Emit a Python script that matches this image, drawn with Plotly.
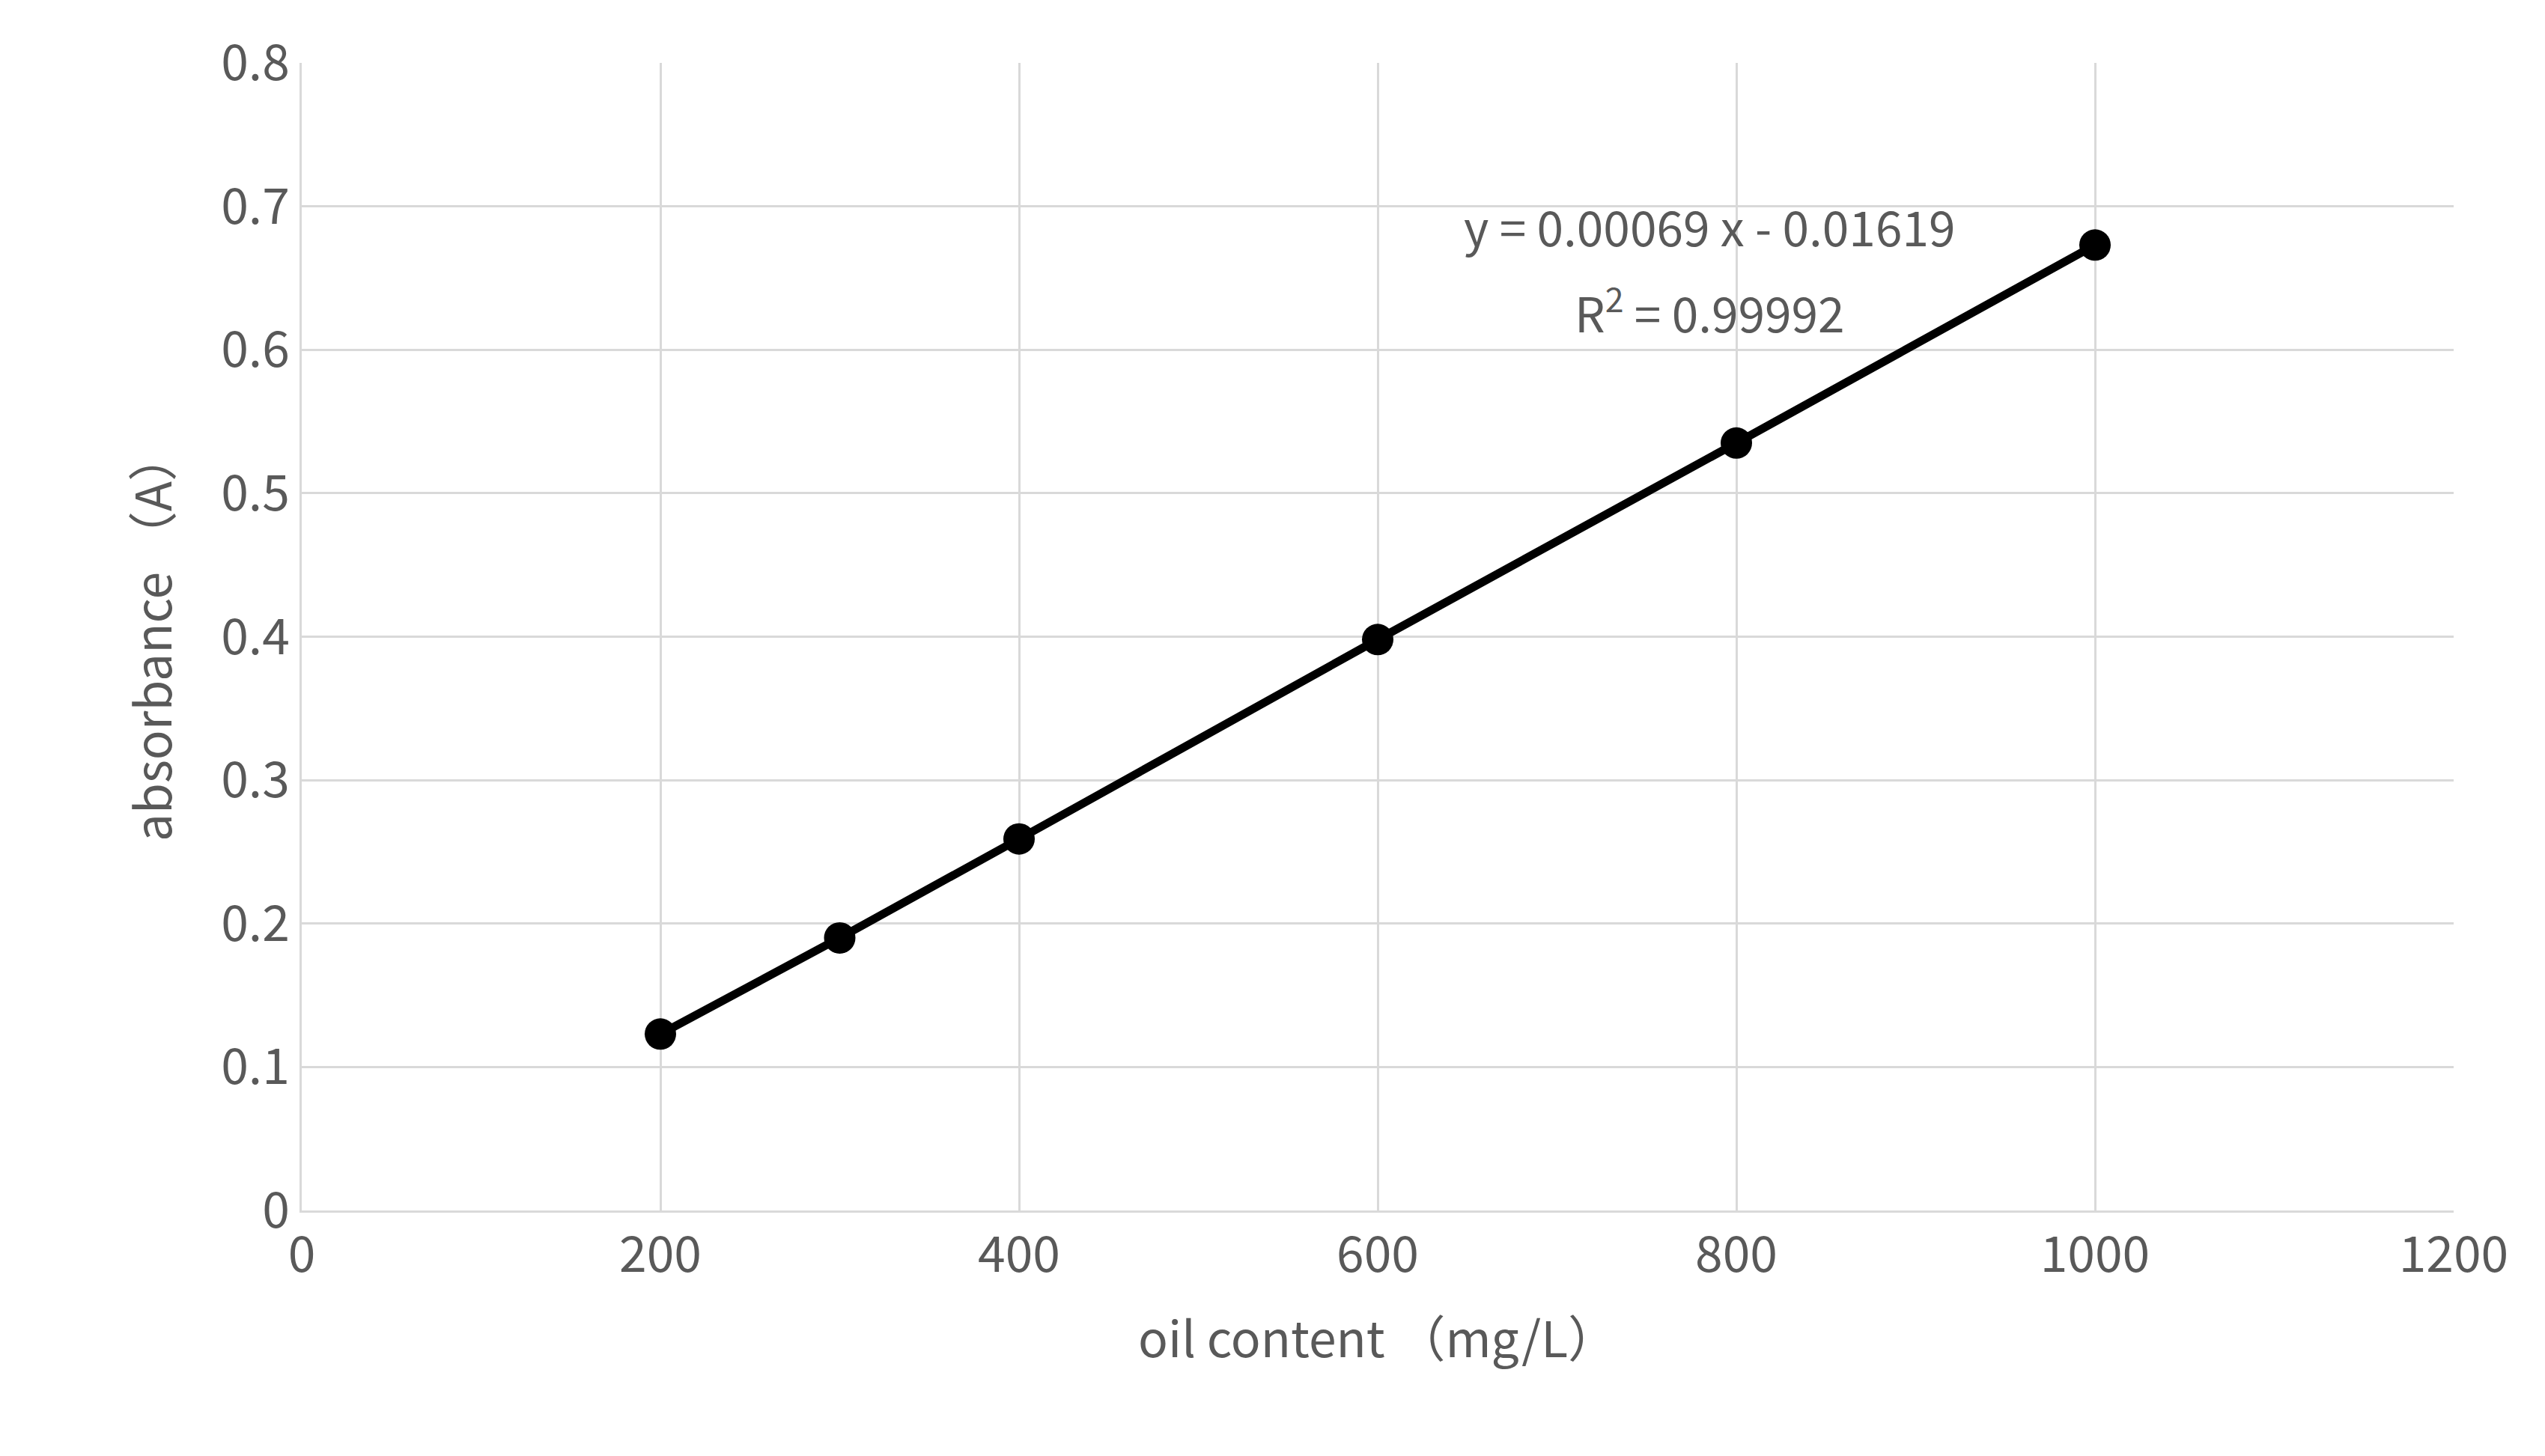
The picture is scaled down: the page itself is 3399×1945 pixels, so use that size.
import plotly.graph_objects as go

oil_content = [200, 300, 400, 600, 800, 1000]
absorbance = [0.123, 0.190, 0.259, 0.398, 0.535, 0.673]
x_ticks = [0, 200, 400, 600, 800, 1000, 1200]
y_ticks = [0, 0.1, 0.2, 0.3, 0.4, 0.5, 0.6, 0.7, 0.8]
y_tick_labels = ["0", "0.1", "0.2", "0.3", "0.4", "0.5", "0.6", "0.7", "0.8"]
eq_line1 = "y = 0.00069 x - 0.01619"
eq_line2 = "R<sup>2</sup> = 0.99992"

gray = "#595959"
fnt = "Noto Sans CJK SC"
fig = go.Figure()
fig.add_trace(go.Scatter(x=oil_content, y=absorbance, mode="lines+markers",
                         line=dict(color="black", width=11),
                         marker=dict(color="black", size=42)))
fig.add_annotation(x=785, y=0.687, text=eq_line1, showarrow=False,
                   font=dict(size=64, color=gray, family=fnt))
fig.add_annotation(x=785, y=0.628, text=eq_line2, showarrow=False,
                   font=dict(size=64, color=gray, family=fnt))
axis_common = dict(showgrid=True, gridcolor="#d9d9d9", gridwidth=3, zeroline=False,
                   showline=True, linecolor="#d9d9d9", linewidth=3,
                   tickfont=dict(size=66, color=gray, family=fnt), ticks="")
fig.update_xaxes(range=[0, 1200], tickvals=x_ticks, ticktext=[str(v) for v in x_ticks],
                 title=dict(text="oil content （mg/L）", font=dict(size=66, color=gray, family=fnt), standoff=50),
                 **axis_common)
fig.update_yaxes(range=[0, 0.8], tickvals=y_ticks, ticktext=y_tick_labels,
                 title=dict(text="absorbance （A）", font=dict(size=66, color=gray, family=fnt), standoff=45),
                 **axis_common)
fig.update_layout(width=3399, height=1945, showlegend=False,
                  plot_bgcolor="white", paper_bgcolor="white",
                  font=dict(family=fnt, color=gray),
                  margin=dict(l=395, r=130, t=76, b=336))
fig.write_html("out.html")
